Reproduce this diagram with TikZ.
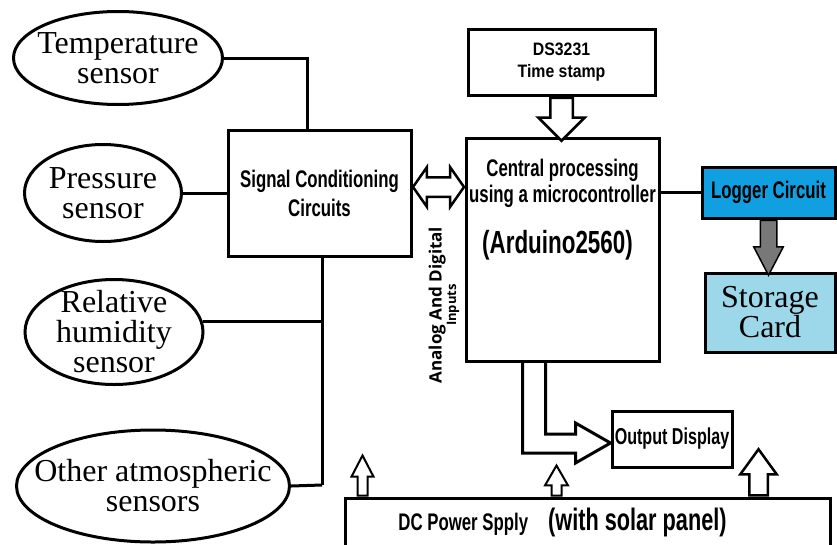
\documentclass[tikz,border=0pt]{standalone}
\usepackage{fontspec}
\setmainfont{Liberation Serif}
\newfontfamily\narrowsf[FakeStretch=0.7]{Liberation Sans}
\newfontfamily\widersf[FakeStretch=0.88]{Liberation Sans}
\newfontfamily\opensf{Open Sans}
\usetikzlibrary{shapes.geometric,shapes.arrows,calc}
\definecolor{loggerblue}{RGB}{16,160,226}
\definecolor{cardblue}{RGB}{156,216,233}
\definecolor{arrowgray}{RGB}{120,120,120}
\tikzset{
  sensor/.style={ellipse, draw, line width=3pt, align=center, inner xsep=-30pt, inner ysep=-8pt, font=\fontsize{32}{30}\selectfont},
  block/.style={draw, line width=3pt, align=center, inner sep=2pt, font=\narrowsf\bfseries\fontsize{24}{29}\selectfont},
  wire/.style={line width=3pt},
  hollow/.style={single arrow, draw, fill=white, line width=2.5pt, inner xsep=0pt},
}

\begin{document}
\begin{tikzpicture}[x=1pt, y=-1pt]
  \useasboundingbox (0,0) rectangle (837,544);
  % sensors
  \node[sensor, minimum width=209pt, minimum height=93pt] (temp) at (118,58) {Temperature\\sensor};
  \node[sensor, minimum width=157pt, minimum height=97pt] (press) at (103,193) {Pressure\\sensor};
  \node[sensor, minimum width=178pt, minimum height=105pt] (hum) at (114,332) {Relative\\humidity\\sensor};
  \node[sensor, minimum width=273pt, minimum height=112pt] (other) at (153,486) {Other atmospheric\\sensors};

  % blocks
  \node[block, minimum width=183pt, minimum height=126pt] (sig) at (319.5,193) {Signal Conditioning\\Circuits};
  \node[block, minimum width=187pt, minimum height=66pt, font=\widersf\bfseries\fontsize{18}{22}\selectfont] (ds) at (561.5,62) {DS3231\\Time stamp};
  \node[block, minimum width=193pt, minimum height=223pt] (cpu) at (562.5,249.5) {};
  \node[anchor=north, align=center, inner sep=0pt, font=\narrowsf\bfseries\fontsize{24}{26}\selectfont] (cputext) at ($(cpu.north)+(0,22)$) {Central processing\\using a microcontroller};
  \node[anchor=base, inner sep=0pt, font=\narrowsf\bfseries\fontsize{32}{36}\selectfont] (cpuname) at ($(cpu.north)+(-5,117)$) {(Arduino2560)};
  \node[rotate=90, align=center, inner sep=0pt, font=\opensf\bfseries] (inputs) at (444,305) {\fontsize{17}{19}\selectfont Analog And Digital\\\fontsize{13}{17}\selectfont Inputs};
  \node[block, fill=loggerblue, minimum width=133pt, minimum height=51pt] (logger) at (768.5,192.5) {Logger Circuit};
  \node[block, fill=cardblue, minimum width=130pt, minimum height=79pt, font=\fontsize{32}{30}\selectfont] (store) at (770,312.5) {Storage\\Card};
  \node[block, minimum width=120pt, minimum height=56pt, inner sep=0pt, font=\narrowsf\bfseries\fontsize{23}{25}\selectfont] (disp) at (672,439) {Output Display};
  \node[block, minimum width=485pt, minimum height=52pt] (power) at (587.5,524) {};
  \node[inner sep=0pt, font=\narrowsf\bfseries\fontsize{24}{26}\selectfont] (powertext) at (562.5,522) {DC Power Spply\hspace{20pt}{\fontsize{31}{34}\selectfont(with solar panel)}};

  % sensor wiring
  \coordinate (busend) at (322,485);
  \draw[wire] (temp.east) -| ($(sig.north)+(-12,0)$);
  \draw[wire] (press.east) -- (press.east -| sig.west);
  \draw[wire] (sig.south -| busend) -- (busend);
  \draw[wire] (hum.7) -- (hum.7 -| busend);
  \draw[wire] (other.east) -- (busend);

  % hollow arrows
  \node[double arrow, draw, fill=white, line width=2.5pt, inner xsep=0pt, inner ysep=8.5pt, minimum height=51pt, double arrow head extend=10pt, double arrow tip angle=110] (ioarrow) at ($(sig.east)!0.5!(sig.east -| cpu.west)+(0,-6)$) {};
  \node[hollow, rotate=-90, anchor=west, minimum height=43pt, inner ysep=10pt, single arrow head extend=12pt] (tsarrow) at (ds.south) {};
  \node[single arrow, draw, fill=arrowgray, line width=1.5pt, rotate=-90, anchor=west, inner xsep=0pt, inner ysep=7.5pt, minimum height=55pt, single arrow head extend=6.5pt, single arrow tip angle=55] (cardarrow) at (logger.south) {};
  \node[hollow, line width=2pt, rotate=90, anchor=west, minimum height=40pt, inner ysep=4pt, single arrow head extend=6pt, single arrow tip angle=55] (pwra) at ($(power.north west)+(19,0)$) {};
  \node[hollow, line width=2pt, rotate=90, anchor=west, minimum height=30pt, inner ysep=4pt, single arrow head extend=6.5pt, single arrow tip angle=60] (pwrb) at ($(power.north west)+(213,0)$) {};
  \node[hollow, rotate=90, anchor=west, minimum height=46pt, inner ysep=8pt, single arrow head extend=9pt, single arrow tip angle=72] (pwrc) at ($(power.north west)+(415,0)$) {};

  \draw[wire] (cpu.east |- logger.west) -- (logger.west);
  \draw[wire] ($(cpu.south)+(-40,0)$) |- ($(disp.west)+(-35,14)$) -- ++(0,10) -- ($(disp.west)+(0,4)$) -- ++(-35,-20) -- ++(0,11) -| ($(cpu.south)+(-17,0)$);
\end{tikzpicture}
\end{document}
